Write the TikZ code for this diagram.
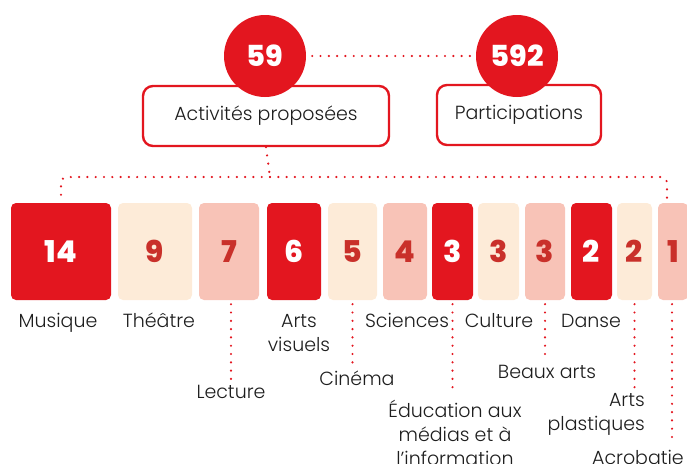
\documentclass[tikz,border=0pt]{standalone}
\usepackage{fontspec}
\setmainfont{Poppins}[UprightFont=* Light, BoldFont=* ExtraBold]
\usetikzlibrary{calc}
\definecolor{myred}{HTML}{E3161F}
\definecolor{cream}{HTML}{FDEBD8}
\definecolor{pinkish}{HTML}{F8C3B7}
\definecolor{numred}{HTML}{C9302A}
\definecolor{txt}{HTML}{1E1E1E}
\tikzset{
  bar/.style={rectangle, rounded corners=5pt, minimum height=97pt, inner sep=0pt,
    font=\fontsize{30}{30}\selectfont\bfseries, text=numred},
  redbar/.style={bar, fill=myred, text=white},
  creambar/.style={bar, fill=cream},
  pinkbar/.style={bar, fill=pinkish},
  lab/.style={font=\fontsize{19}{24}\selectfont, text=txt, align=center, anchor=base, inner sep=3pt},
  bigcirc/.style={circle, fill=myred, minimum size=82pt, inner sep=0pt,
    font=\fontsize{29}{29}\selectfont\bfseries, text=white},
  titlebox/.style={draw=myred, line width=2.4pt, rounded corners=10pt, fill=white,
    minimum height=60pt, font=\fontsize{19}{24}\selectfont, text=txt},
  dots/.style={draw=myred, line width=2.4pt, line cap=round, dash pattern=on 0pt off 8.3pt}
}
\begin{document}
\begin{tikzpicture}[x=1pt,y=-1pt]
\useasboundingbox (0,0) rectangle (687,463);

% title boxes
\node[titlebox, minimum width=246pt] (act) at (266,116) {Activités proposées};
\node[titlebox, minimum width=164pt] (par) at (519,115) {Participations};
\node[bigcirc] (c59) at (265,56) {59};
\node[bigcirc] (c592) at (517,56) {592};
\draw[dots, shorten <=6pt, shorten >=4pt] (c59.east) -- (c592.west);

% bars
\node[redbar,   minimum width=100pt] (b1)  at (61,251.5)    {14};
\node[creambar, minimum width=74pt]  (b2)  at (155,251.5)   {9};
\node[pinkbar,  minimum width=60pt]  (b3)  at (229,251.5)   {7};
\node[redbar,   minimum width=54pt]  (b4)  at (294,251.5)   {6};
\node[creambar, minimum width=49pt]  (b5)  at (352.5,251.5) {5};
\node[pinkbar,  minimum width=44pt]  (b6)  at (405,251.5)   {4};
\node[redbar,   minimum width=41pt]  (b7)  at (452.5,251.5) {3};
\node[creambar, minimum width=41pt]  (b8)  at (498.5,251.5) {3};
\node[pinkbar,  minimum width=40pt]  (b9)  at (545,251.5)   {3};
\node[redbar,   minimum width=41pt]  (b10) at (591.5,251.5) {2};
\node[creambar, minimum width=35pt]  (b11) at (634.5,251.5) {2};
\node[pinkbar,  minimum width=30pt]  (b12) at (673,251.5)   {1};

% tree connector
\coordinate (hub) at (270,177);
\draw[dots] (act.south) -- (hub);
\draw[dots, rounded corners=6pt] (hub) -| (b1.north);
\draw[dots, rounded corners=6pt] (hub) -| ([xshift=-6pt]b12.north);

% labels (base = baseline of last line)
\node[lab] (mus) at (58,327) {Musique};
\node[lab] (the) at (159,327) {Théâtre};
\node[lab] (lec) at (231,398) {Lecture};
\node[lab] (arv) at (299,351) {Arts\\visuels};
\node[lab] (cin) at (357,385) {Cinéma};
\node[lab] (sci) at (407,327) {Sciences};
\node[lab] (edu) at (455,465) {Éducation aux\\médias et à\\l’information};
\node[lab] (cul) at (499,327) {Culture};
\node[lab] (bea) at (547,378) {Beaux arts};
\node[lab] (dan) at (591,327) {Danse};
\node[lab, align=right, anchor=base east] (arp) at (648,430) {Arts\\plastiques};
\node[lab, anchor=base east] (acr) at (687,464) {Acrobatie};

% label connectors
\draw[dots, shorten <=4pt, shorten >=2pt] (b3.south -| lec.north) -- (lec.north);
\draw[dots, shorten <=4pt, shorten >=2pt] (b5.south) -- (b5.south |- cin.north);
\draw[dots, shorten <=4pt, shorten >=2pt] (b7.south) -- (b7.south |- edu.north);
\draw[dots, shorten <=4pt, shorten >=2pt] (b9.south) -- (b9.south |- bea.north);
\draw[dots, shorten <=4pt, shorten >=2pt] (b11.south) -- (b11.south |- arp.north);
\draw[dots, shorten <=4pt, shorten >=2pt] ([xshift=-1pt]b12.south) -- ([xshift=-1pt]b12.south |- acr.north);
\end{tikzpicture}
\end{document}
